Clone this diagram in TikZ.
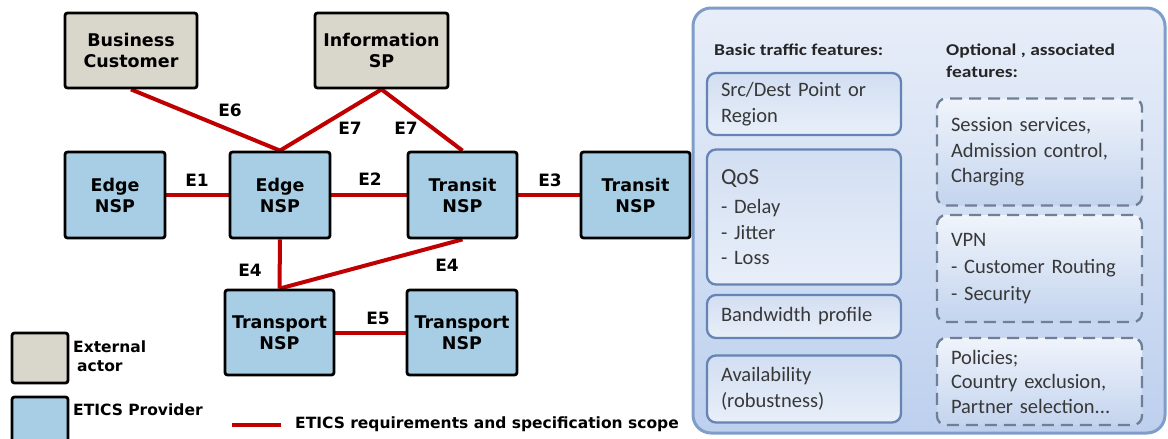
\documentclass[tikz,border=0pt]{standalone}
\usepackage{fontspec}
\usepackage{graphicx}
\setmainfont{DejaVu Sans}
\newfontfamily\featfont{Carlito}
\usetikzlibrary{backgrounds}

\definecolor{extgray}{HTML}{D9D6CB}
\definecolor{provblue}{HTML}{A8CEE5}
\definecolor{linkred}{HTML}{C00000}
\definecolor{panelborder}{HTML}{7F9DC9}
\definecolor{paneltop}{HTML}{E8EEF9}
\definecolor{panelbottom}{HTML}{BDD0EE}
\definecolor{featborder}{HTML}{6584B4}
\definecolor{feattop}{HTML}{D2DEF2}
\definecolor{featbottom}{HTML}{E8EFF9}
\definecolor{dashborder}{HTML}{6E7F96}
\definecolor{dashtop}{HTML}{F0F4FB}
\definecolor{dashbottom}{HTML}{C3D4EE}
\definecolor{feattext}{HTML}{383838}

% wide bold headings of the feature panel
\newcommand{\widehead}[1]{\scalebox{1.18}[1]{#1}}

\begin{document}
\begin{tikzpicture}[x=1pt,y=-1pt,
  box/.style={draw=black,line width=2.8pt,rounded corners=2.5pt,align=center,
    font=\fontsize{17.5}{21}\selectfont\bfseries,inner sep=0pt},
  actor/.style={box,fill=extgray},
  provider/.style={box,fill=provblue},
  link/.style={draw=linkred,line width=4pt},
  elabel/.style={font=\fontsize{17}{20}\selectfont\bfseries,inner sep=0pt},
  keytext/.style={font=\fontsize{15.5}{19}\selectfont\bfseries,inner sep=0pt,anchor=west,align=left},
  panel/.style={draw=panelborder,line width=3pt,rounded corners=18pt,
    top color=paneltop,bottom color=panelbottom},
  feattitle/.style={font=\featfont\fontsize{16.5}{22}\selectfont\bfseries,text=black!85,
    inner sep=0pt,anchor=west,align=left},
  featbox/.style={draw=featborder,line width=2.3pt,rounded corners=9pt,
    top color=feattop,bottom color=featbottom,text=feattext,
    font=\featfont\fontsize{20.5}{25.5}\selectfont,align=left,inner xsep=14pt,inner ysep=0pt},
  optbox/.style={featbox,draw=dashborder,dash pattern=on 12pt off 7pt,
    top color=dashtop,bottom color=dashbottom}
]
\useasboundingbox (0,0) rectangle (1168,439);

% ---- actors and providers ----
\node[actor,minimum width=132pt,minimum height=75pt] (bc) at (131,50.5) {Business\\Customer};
\node[actor,minimum width=133pt,minimum height=75pt] (isp) at (381.5,50.5) {Information\\SP};
\node[provider,minimum width=100pt,minimum height=86pt] (edgeA) at (115,195) {Edge\\NSP};
\node[provider,minimum width=100pt,minimum height=86pt] (edgeB) at (280,195) {Edge\\NSP};
\node[provider,minimum width=109pt,minimum height=86pt] (transA) at (462.5,195) {Transit\\NSP};
\node[provider,minimum width=109pt,minimum height=86pt] (transB) at (635.5,195) {Transit\\NSP};
\node[provider,minimum width=109pt,minimum height=85pt] (tportA) at (279.5,332.5) {Transport\\NSP};
\node[provider,minimum width=110pt,minimum height=85pt] (tportB) at (462,332.5) {Transport\\NSP};

% ---- interfaces ----
\begin{scope}[on background layer]
  \draw[link] (bc.south) -- (edgeB.north);
  \draw[link] (isp.south) -- (edgeB.north);
  \draw[link] (isp.south) -- (transA.north);
  \draw[link] (edgeA.east) -- (edgeB.west);
  \draw[link] (edgeB.east) -- (transA.west);
  \draw[link] (transA.east) -- (transB.west);
  \draw[link] (edgeB.south) -- (tportA.north);
  \draw[link] (transA.south) -- (tportA.north);
  \draw[link] (tportA.east) -- (tportB.west);
\end{scope}

\node[elabel] (l6) at (230,110) {E6};
\node[elabel] (l7a) at (350,128) {E7};
\node[elabel] (l7b) at (406,128) {E7};
\node[elabel] (l1) at (197,180) {E1};
\node[elabel] (l2) at (370,179) {E2};
\node[elabel] (l3) at (550,180) {E3};
\node[elabel] (l4a) at (250,270) {E4};
\node[elabel] (l4b) at (447,265) {E4};
\node[elabel] (l5) at (378,318) {E5};

% ---- legend ----
\node[box,fill=extgray,minimum width=56pt,minimum height=50pt] (keyext) at (40,358) {};
\node[keytext] (keyexttext) at (73,356.5) {External\\\hspace*{4pt}actor};
\node[box,fill=provblue,minimum width=56pt,minimum height=50pt] (keyprov) at (40,422) {};
\node[keytext] (keyprovtext) at (73,410) {ETICS Provider};
\coordinate (keyA) at (232,425);
\coordinate (keyB) at (281,425);
\draw[link] (keyA) -- (keyB);
\node[keytext] (keylinktext) at (295,424) {ETICS requirements and specification scope};

% ---- feature panel ----
\node[panel,minimum width=472pt,minimum height=425pt] (panelbox) at (929,220.5) {};
\node[feattitle] (basictitle) at (714,50) {\widehead{Basic traffic features:}};
\node[feattitle] (opttitle) at (946,61) {\widehead{Optional , associated}\\\widehead{features:}};

\node[featbox,text width=166pt,minimum height=62pt] (src) at (804,104)
  {Src/Dest Point or\\Region};
\node[featbox,text width=166pt,minimum height=135pt] (qos) at (804,217)
  {{\fontsize{23}{25}\selectfont QoS}\\[4pt]- Delay\\- Jitter\\- Loss};
\node[featbox,text width=166pt,minimum height=43pt] (bw) at (804,316.5)
  {Bandwidth profile};
\node[featbox,text width=166pt,minimum height=67pt] (avail) at (804,389)
  {Availability\\(robustness)};

\node[optbox,text width=177pt,minimum height=107pt] (sess) at (1039.5,152)
  {Session services,\\Admission control,\\Charging};
\node[optbox,text width=177pt,minimum height=107pt] (vpn) at (1039.5,268.5)
  {VPN\\[1.5pt]- Customer Routing\\[1.5pt]- Security};
\node[optbox,text width=177pt,minimum height=87pt] (pol) at (1039.5,381.5)
  {Policies;\\[-1pt]Country exclusion,\\[-1pt]Partner selection...};
\end{tikzpicture}
\end{document}
